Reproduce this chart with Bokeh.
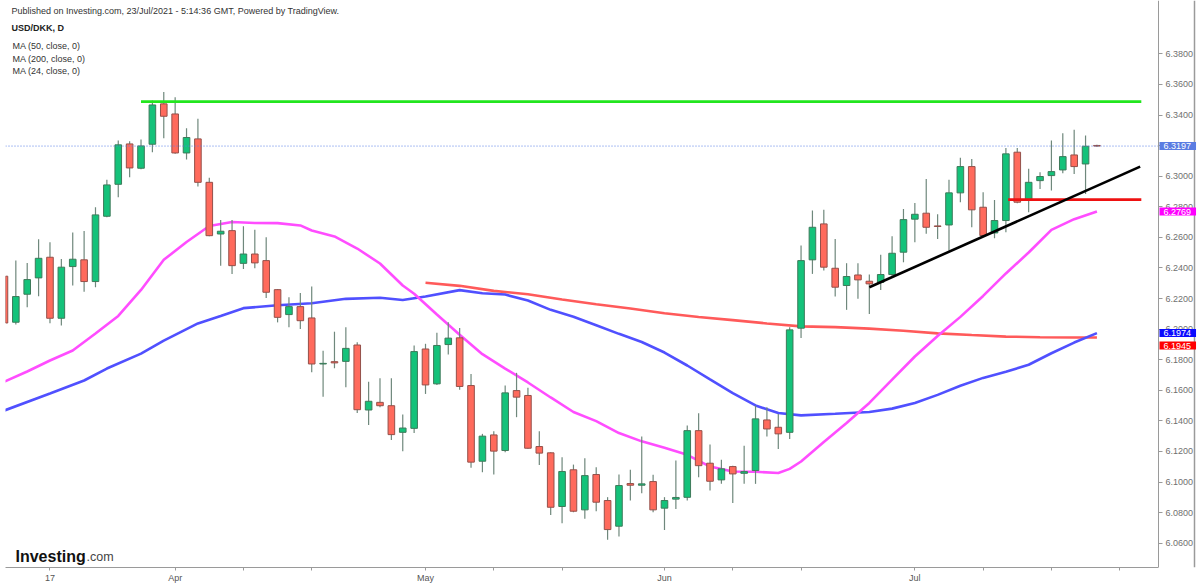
import numpy as np
import pandas as pd
from bokeh.plotting import figure
from bokeh.models import Label, FixedTicker, NumeralTickFormatter, Range1d, ColumnDataSource, LinearAxis
from bokeh.embed import file_html
from bokeh.resources import INLINE

# ---------------- data ----------------
dates = [d.strftime("%Y-%m-%d") for d in pd.bdate_range("2021-03-11", "2021-07-23")]

opens = [6.2346, 6.2045, 6.2228, 6.2335, 6.2470, 6.2071, 6.2409, 6.2453, 6.2311, 6.2738,
         6.2947, 6.3211, 6.3052, 6.3209, 6.3473, 6.3407, 6.3152, 6.3244, 6.2960, 6.2622,
         6.2644, 6.2430, 6.2491, 6.2448, 6.2258, 6.2095, 6.2147, 6.2073, 6.1772, 6.1787,
         6.1789, 6.1896, 6.1471, 6.1521, 6.1499, 6.1325, 6.1351, 6.1870, 6.1642, 6.1899,
         6.1943, 6.1631, 6.1136, 6.1308, 6.1206, 6.1598, 6.1566, 6.1232, 6.1191, 6.0840,
         6.1080, 6.0818, 6.1049, 6.0879, 6.0711, 6.0990, 6.0979, 6.1003, 6.0829, 6.0888,
         6.0900, 6.1336, 6.1123, 6.1014, 6.1101, 6.1057, 6.1075, 6.1406, 6.1358, 6.1325,
         6.2006, 6.2453, 6.2688, 6.2398, 6.2285, 6.2354, 6.2313, 6.2306, 6.2357, 6.2503,
         6.2719, 6.2758, 6.2675, 6.2681, 6.2891, 6.3063, 6.2797, 6.2629, 6.2710, 6.3157,
         6.2845, 6.2971, 6.3004, 6.3041, 6.3139, 6.3080, 6.3201]
highs = [6.2346, 6.2448, 6.2433, 6.2588, 6.2568, 6.2459, 6.2631, 6.2642, 6.2797, 6.2976,
         6.3233, 6.3229, 6.3240, 6.3495, 6.3550, 6.3516, 6.3314, 6.3375, 6.2990, 6.2714,
         6.2714, 6.2672, 6.2650, 6.2600, 6.2262, 6.2208, 6.2236, 6.2278, 6.1859, 6.1983,
         6.2012, 6.1914, 6.1656, 6.1678, 6.1678, 6.1441, 6.1892, 6.1904, 6.1976, 6.2045,
         6.2008, 6.1707, 6.1315, 6.1332, 6.1631, 6.1714, 6.1616, 6.1332, 6.1195, 6.1162,
         6.1114, 6.1156, 6.1097, 6.0901, 6.1049, 6.1080, 6.1298, 6.1047, 6.0901, 6.1141,
         6.1369, 6.1450, 6.1245, 6.1145, 6.1107, 6.1238, 6.1500, 6.1489, 6.1445, 6.2012,
         6.2546, 6.2775, 6.2780, 6.2590, 6.2431, 6.2431, 6.2357, 6.2487, 6.2607, 6.2786,
         6.2825, 6.2982, 6.2751, 6.2976, 6.3120, 6.3113, 6.2895, 6.2845, 6.3185, 6.3185,
         6.3048, 6.3026, 6.3233, 6.3281, 6.3303, 6.3266, 6.3205]
lows = [6.2040, 6.2030, 6.2143, 6.2215, 6.2038, 6.2023, 6.2285, 6.2245, 6.2274, 6.2732,
        6.2862, 6.2993, 6.3046, 6.3157, 6.3248, 6.3146, 6.3109, 6.2932, 6.2607, 6.2415,
        6.2361, 6.2393, 6.2398, 6.2204, 6.2044, 6.2012, 6.2001, 6.1718, 6.1558, 6.1744,
        6.1620, 6.1451, 6.1373, 6.1489, 6.1275, 6.1201, 6.1321, 6.1576, 6.1635, 6.1834,
        6.1603, 6.1093, 6.1064, 6.1049, 6.1195, 6.1424, 6.1217, 6.1112, 6.0785, 6.0731,
        6.0803, 6.0759, 6.0809, 6.0622, 6.0644, 6.0879, 6.0927, 6.0803, 6.0687, 6.0824,
        6.0879, 6.1031, 6.0944, 6.0988, 6.0863, 6.0988, 6.0988, 6.1297, 6.1216, 6.1282,
        6.1942, 6.2361, 6.2383, 6.2213, 6.2126, 6.2198, 6.2099, 6.2256, 6.2339, 6.2437,
        6.2568, 6.2623, 6.2590, 6.2514, 6.2830, 6.2666, 6.2607, 6.2594, 6.2634, 6.2823,
        6.2764, 6.2917, 6.2906, 6.3019, 6.3015, 6.2884, 6.3193]
closes = [6.2040, 6.2213, 6.2324, 6.2463, 6.2071, 6.2405, 6.2457, 6.2311, 6.2747, 6.2943,
          6.3205, 6.3054, 6.3198, 6.3466, 6.3392, 6.3152, 6.3253, 6.2960, 6.2611, 6.2640,
          6.2415, 6.2491, 6.2433, 6.2241, 6.2077, 6.2147, 6.2055, 6.1772, 6.1776, 6.1779,
          6.1874, 6.1473, 6.1528, 6.1499, 6.1310, 6.1353, 6.1853, 6.1635, 6.1893, 6.1941,
          6.1625, 6.1130, 6.1300, 6.1202, 6.1583, 6.1555, 6.1221, 6.1189, 6.0835, 6.1069,
          6.0809, 6.1042, 6.0868, 6.0689, 6.0977, 6.0979, 6.0988, 6.0818, 6.0879, 6.0899,
          6.1336, 6.1107, 6.1005, 6.1086, 6.1053, 6.1068, 6.1413, 6.1347, 6.1315, 6.1995,
          6.2448, 6.2666, 6.2405, 6.2274, 6.2344, 6.2322, 6.2296, 6.2357, 6.2496, 6.2716,
          6.2751, 6.2666, 6.2671, 6.2891, 6.3063, 6.2780, 6.2612, 6.2710, 6.3146, 6.2830,
          6.2960, 6.2998, 6.3030, 6.3128, 6.3063, 6.3196, 6.3197]

ma24_bars = [0, 2, 4, 6, 8, 10, 12, 14, 16, 18, 20, 22, 24, 26, 27, 29, 31, 33, 35, 36,
             38, 40, 42, 44, 46, 48, 50, 52, 54, 56, 58, 60, 62, 64, 66, 68, 69, 70, 72, 74,
             76, 78, 80, 82, 84, 86, 88, 90, 92, 94, 96]
ma24 = [6.1657, 6.1723, 6.1795, 6.1860, 6.1971, 6.2086, 6.2256, 6.2453, 6.2570, 6.2674,
        6.2700, 6.2694, 6.2693, 6.2678, 6.2645, 6.2606, 6.2527, 6.2429, 6.2285, 6.2231,
        6.2095, 6.1963, 6.1836, 6.1742, 6.1651, 6.1553, 6.1458, 6.1398, 6.1320, 6.1266,
        6.1224, 6.1178, 6.1101, 6.1069, 6.1067, 6.1059, 6.1086, 6.1134, 6.1262, 6.1386,
        6.1517, 6.1670, 6.1821, 6.1955, 6.2080, 6.2217, 6.2364, 6.2501, 6.2649, 6.2719,
        6.2769]

ma50_bars = [0, 4, 7, 9, 12, 14, 17, 19, 21, 24, 27, 30, 33, 35, 37, 40, 42, 44, 46, 48,
             50, 52, 54, 56, 58, 60, 62, 64, 66, 68, 70, 73, 76, 78, 80, 82, 84, 86, 88, 90,
             92, 94, 96]
ma50 = [6.1468, 6.1579, 6.1664, 6.1742, 6.1840, 6.1925, 6.2037, 6.2086, 6.2137, 6.2156,
        6.2169, 6.2198, 6.2205, 6.2190, 6.2213, 6.2255, 6.2235, 6.2226, 6.2187, 6.2126,
        6.2081, 6.2025, 6.1969, 6.1916, 6.1847, 6.1762, 6.1671, 6.1581, 6.1501, 6.1451,
        6.1436, 6.1446, 6.1458, 6.1480, 6.1517, 6.1570, 6.1630, 6.1681, 6.1721, 6.1767,
        6.1842, 6.1912, 6.1974]

ma200_bars = [37, 40, 43, 46, 49, 52, 55, 58, 61, 64, 67, 70, 73, 76, 79, 82, 85, 88, 91, 94, 96]
ma200 = [6.2303, 6.2283, 6.2250, 6.2228, 6.2194, 6.2163, 6.2135, 6.2104, 6.2079, 6.2059,
         6.2037, 6.2018, 6.2013, 6.2003, 6.1989, 6.1972, 6.1961, 6.1951, 6.1947, 6.1945,
         6.1945]

resistance_level = 6.3488
resistance_bars = [12, 99.9]
support_level = 6.2847
support_bars = [88.2, 99.9]
trend_bars = [76, 99.8]
trend_vals = [6.2274, 6.3063]

y_ticks = [6.06, 6.08, 6.10, 6.12, 6.14, 6.16, 6.18, 6.20, 6.22, 6.24, 6.26, 6.28,
           6.30, 6.32, 6.34, 6.36, 6.38]
tick_dates = ["2021-03-17", "2021-04-01", "2021-04-09", "2021-04-19", "2021-05-03",
              "2021-05-11", "2021-05-19", "2021-06-01", "2021-06-09", "2021-06-17",
              "2021-07-01", "2021-07-09", "2021-07-19", "2021-07-27"]
tick_labels = ["17", "Apr", "", "", "May", "", "", "Jun", "", "", "Jul", "", "", ""]

header_text = "Published on Investing.com, 23/Jul/2021 - 5:14:36 GMT, Powered by TradingView."
symbol_text = "USD/DKK, D"
legend_texts = ["MA (50, close, 0)", "MA (200, close, 0)", "MA (24, close, 0)"]

# ---------------- layout constants ----------------
FONT = "Liberation Sans"
LEFT = 5
BAR_PX = 11.38
FW, FH = 1193, 567
X0 = 0.092
XR = (X0, X0 + FW / BAR_PX)
YR = (6.0441, 6.4149)
PRICE_EDGE_PX = 1158          # page x of the price-scale line
OUTER_EDGE_PX = 1194          # page x of the outer border line
UP_FILL, UP_LINE = "#14c27a", "#3d7a5a"
DN_FILL, DN_LINE = "#ff6a5c", "#94504a"
WICK = "#6f887c"


def px_x(page_x):
    return X0 + (page_x - LEFT) / BAR_PX


def px_y(page_y):
    return YR[1] - page_y / FH * (YR[1] - YR[0])


def val_to_py(v):
    return (YR[1] - v) / (YR[1] - YR[0]) * FH


X_EDGE = px_x(PRICE_EDGE_PX)

idx = np.arange(len(dates))
o = np.array(opens); c = np.array(closes)
up = c >= o
src_up = ColumnDataSource(dict(x=idx[up], top=c[up], bottom=o[up],
                               high=np.array(highs)[up], low=np.array(lows)[up]))
src_dn = ColumnDataSource(dict(x=idx[~up], top=o[~up], bottom=c[~up],
                               high=np.array(highs)[~up], low=np.array(lows)[~up]))

p = figure(frame_width=FW, frame_height=FH, x_range=Range1d(*XR), y_range=Range1d(*YR),
           output_backend="svg", toolbar_location=None, y_axis_location="right",
           min_border_left=LEFT, min_border_top=0, min_border_right=0, min_border_bottom=18)
p.xgrid.visible = False
p.ygrid.visible = False
p.outline_line_color = None
p.background_fill_color = "white"
p.border_fill_color = "white"

# moving averages
p.line(ma200_bars, ma200, line_color="#ff5a5a", line_width=2.6)
p.line(ma50_bars, ma50, line_color="#5050ff", line_width=2.6)
p.line(ma24_bars, ma24, line_color="#ff4dff", line_width=2.6)

# candles
for src, fill, edge in ((src_up, UP_FILL, UP_LINE), (src_dn, DN_FILL, DN_LINE)):
    p.segment(x0="x", y0="high", x1="x", y1="low", source=src, line_color=WICK, line_width=1.2)
    p.vbar(x="x", width=0.58, top="top", bottom="bottom", source=src,
           fill_color=fill, line_color=edge, line_width=1)

# drawn levels
p.line(resistance_bars, [resistance_level] * 2, line_color="#22e61e", line_width=2.6)
p.line(support_bars, [support_level] * 2, line_color="#ee1111", line_width=2.6)
p.line(trend_bars, trend_vals, line_color="black", line_width=2.6)

# last price dotted line
p.line([XR[0], X_EDGE], [closes[-1]] * 2, line_color="#5b7fe6", line_width=1, line_dash="1 2")

# price axis, pinned at the price-scale edge
p.yaxis.fixed_location = X_EDGE
p.yaxis.ticker = FixedTicker(ticks=y_ticks)
p.yaxis.formatter = NumeralTickFormatter(format="0.0000")
p.yaxis.axis_line_color = "#9a9a9a"
p.yaxis.major_tick_line_color = "#9a9a9a"
p.yaxis.major_tick_out = 4
p.yaxis.major_tick_in = 0
p.yaxis.minor_tick_line_color = None
p.yaxis.major_label_text_font = FONT
p.yaxis.major_label_text_font_size = "9px"
p.yaxis.major_label_text_color = "#707070"
p.yaxis.major_label_standoff = 3

# outer border line of the price scale
edge_axis = LinearAxis(ticker=FixedTicker(ticks=[]), axis_line_color="#9a9a9a",
                       axis_line_width=1.5,
                       major_tick_line_color=None, minor_tick_line_color=None,
                       major_label_text_font_size="0px", fixed_location=px_x(OUTER_EDGE_PX))
p.add_layout(edge_axis, "right")

tick_pos = [int(np.busday_count(dates[0], d)) for d in tick_dates]
p.xaxis.ticker = FixedTicker(ticks=tick_pos)
p.xaxis.major_label_overrides = {t: lab for t, lab in zip(tick_pos, tick_labels)}
p.xaxis.bounds = (XR[0], X_EDGE)
p.xaxis.axis_line_color = "#9a9a9a"
p.xaxis.major_tick_line_color = "#9a9a9a"
p.xaxis.major_tick_out = 3
p.xaxis.major_tick_in = 0
p.xaxis.minor_tick_line_color = None
p.xaxis.major_label_text_font = FONT
p.xaxis.major_label_text_font_size = "9px"
p.xaxis.major_label_text_color = "#555555"
p.xaxis.major_label_standoff = 2

# texts
p.add_layout(Label(x=px_x(11), y=px_y(10.5), text=header_text, text_font=FONT,
                   text_font_size="9px", text_color="#333333", text_baseline="middle"))
p.add_layout(Label(x=px_x(11), y=px_y(27), text=symbol_text, text_font=FONT,
                   text_font_size="9px", text_font_style="bold", text_color="#222222",
                   text_baseline="middle"))
for k, t in enumerate(legend_texts):
    p.add_layout(Label(x=px_x(12), y=px_y(45.5 + 12.5 * k), text=t, text_font=FONT,
                       text_font_size="9px", text_color="#333333", text_baseline="middle"))

# logo
p.add_layout(Label(x=px_x(15), y=px_y(556), text="Investing", text_font=FONT,
                   text_font_size="16px", text_font_style="bold", text_color="#111111",
                   text_baseline="alphabetic"))
p.add_layout(Label(x=px_x(86), y=px_y(556), text=".com", text_font=FONT,
                   text_font_size="12.5px", text_color="#444444", text_baseline="alphabetic"))

# price badges on the axis
bx = px_x(PRICE_EDGE_PX + 1)
badges = [(closes[-1], 0, "#5a7ce2"), (ma24[-1], 0, "#ff00ff"),
          (ma50[-1], 0, "#0b0bff"), (ma200[-1], -8, "#ff0000")]
for val, shift, col in badges:
    yy = px_y(val_to_py(val) - shift)
    p.add_layout(Label(x=bx, y=yy, text=f"{val:.4f}", text_font=FONT, text_font_size="9px",
                       text_color="white", text_baseline="middle", text_align="left",
                       background_fill_color=col, level="overlay",
                       padding=dict(left=4, right=5, top=1, bottom=1)))

open("out.html", "w").write(file_html(p, INLINE))
